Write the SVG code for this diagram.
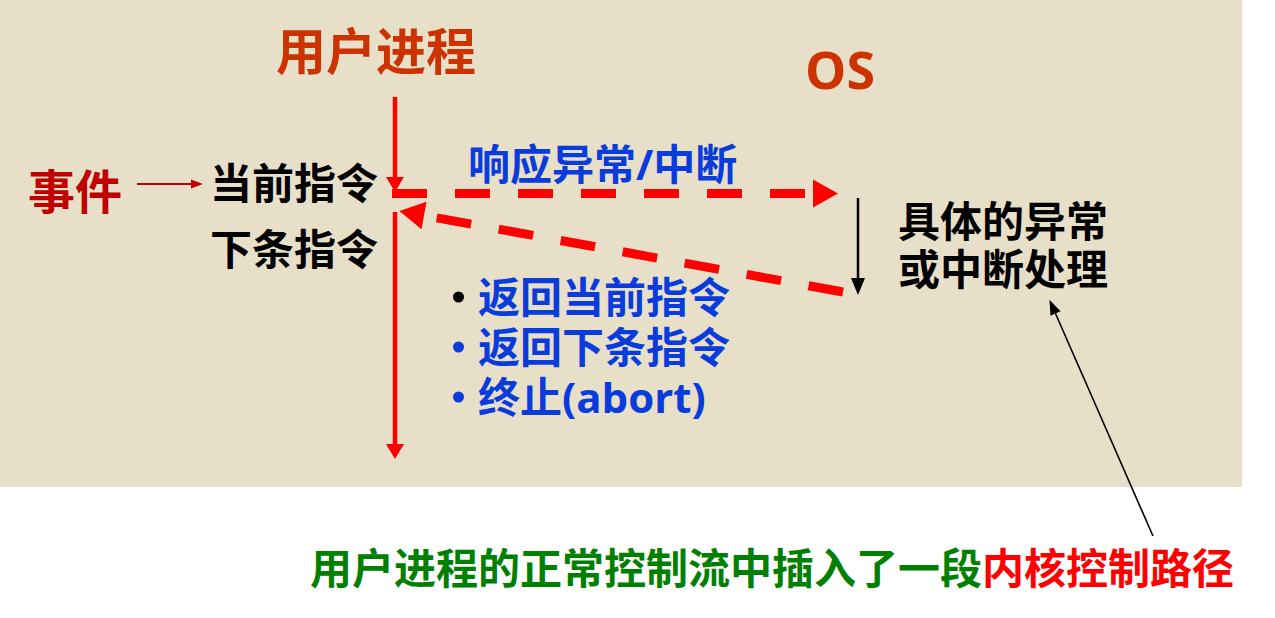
<svg xmlns="http://www.w3.org/2000/svg" width="1275" height="618" viewBox="0 0 1275 618">
<style>
text { font-family: "Open Sans", "Noto Sans CJK SC", sans-serif; font-weight: bold; }
.title { fill: #CC3300; }
.blk { fill: #000000; font-size: 42px; }
.blue { fill: #0A3CDC; font-size: 42px; }
.dash { fill: none; stroke: #FF0000; stroke-width: 9; stroke-dasharray: 35 28; }
.red { fill: none; stroke: #FF0000; stroke-width: 4.5; }
</style>
<defs>
<marker id="bigRed" markerUnits="userSpaceOnUse" markerWidth="27" markerHeight="28" refX="0" refY="14" orient="auto" overflow="visible">
<path d="M0,0 L25,14 L0,28 z" fill="#FF0000"/>
</marker>
<marker id="vRed" markerUnits="userSpaceOnUse" markerWidth="18" markerHeight="18" refX="0" refY="9" orient="auto" overflow="visible">
<path d="M0,0 L15,9 L0,18 z" fill="#FF0000"/>
</marker>
<marker id="blkHead" markerUnits="userSpaceOnUse" markerWidth="18" markerHeight="16" refX="0" refY="7" orient="auto" overflow="visible">
<path d="M0,0 L17,7 L0,14 z" fill="#000000"/>
</marker>
<marker id="thinHead" markerUnits="userSpaceOnUse" markerWidth="16" markerHeight="12" refX="0" refY="5.5" orient="auto" overflow="visible">
<path d="M0,0 L15,5.5 L0,11 z" fill="#000000"/>
</marker>
<marker id="evtHead" markerUnits="userSpaceOnUse" markerWidth="13" markerHeight="10" refX="0" refY="4.5" orient="auto" overflow="visible">
<path d="M0,0 L12,4.5 L0,9 z" fill="#C00000"/>
</marker>
</defs>
<rect x="0" y="0" width="1242" height="487" fill="#E7DFC8"/>

<g id="connectors">
<line x1="395" y1="97" x2="395" y2="177" class="red" marker-end="url(#vRed)"/>
<line x1="395" y1="212" x2="395" y2="444" class="red" marker-end="url(#vRed)"/>
<line x1="392" y1="193.5" x2="813" y2="193.5" class="dash" marker-end="url(#bigRed)"/>
<line x1="843" y1="292" x2="424" y2="215.5" class="dash" marker-end="url(#bigRed)"/>
<line x1="858" y1="198" x2="858" y2="278" stroke="#000" stroke-width="2.5" marker-end="url(#blkHead)"/>
<line x1="137" y1="184" x2="191" y2="184" stroke="#C00000" stroke-width="2" marker-end="url(#evtHead)"/>
<line x1="1153" y1="536" x2="1055.5" y2="313.5" stroke="#000" stroke-width="1.6" marker-end="url(#thinHead)"/>
</g>

<g id="user-process">
<text x="276" y="69.5" class="title" font-size="50">用户进程</text>
</g>
<g id="os">
<text x="805" y="89" class="title" font-size="52">OS</text>
</g>
<g id="event">
<text x="28" y="209" fill="#C00000" font-size="47">事件</text>
</g>
<g id="current-instr">
<text x="210" y="199" class="blk">当前指令</text>
</g>
<g id="next-instr">
<text x="210" y="265" class="blk">下条指令</text>
</g>
<g id="respond-label">
<text x="468" y="180" class="blue">响应异常/中断</text>
</g>
<g id="handler">
<text x="898" y="237" class="blk">具体的异常</text>
<text x="898" y="285" class="blk">或中断处理</text>
</g>
<g id="return-options">
<circle cx="458.5" cy="297" r="5.5" fill="#000"/>
<text x="478" y="313" class="blue">返回当前指令</text>
<circle cx="458.5" cy="347" r="5.5" fill="#0A3CDC"/>
<text x="478" y="363" class="blue">返回下条指令</text>
<circle cx="458.5" cy="397" r="5.5" fill="#0A3CDC"/>
<text x="478" y="413" class="blue">终止(abort)</text>
</g>
<g id="caption">
<text x="310" y="584" font-size="42"><tspan fill="#008000">用户进程的正常控制流中插入了一段</tspan><tspan fill="#FF0000">内核控制路径</tspan></text>
</g>
</svg>
